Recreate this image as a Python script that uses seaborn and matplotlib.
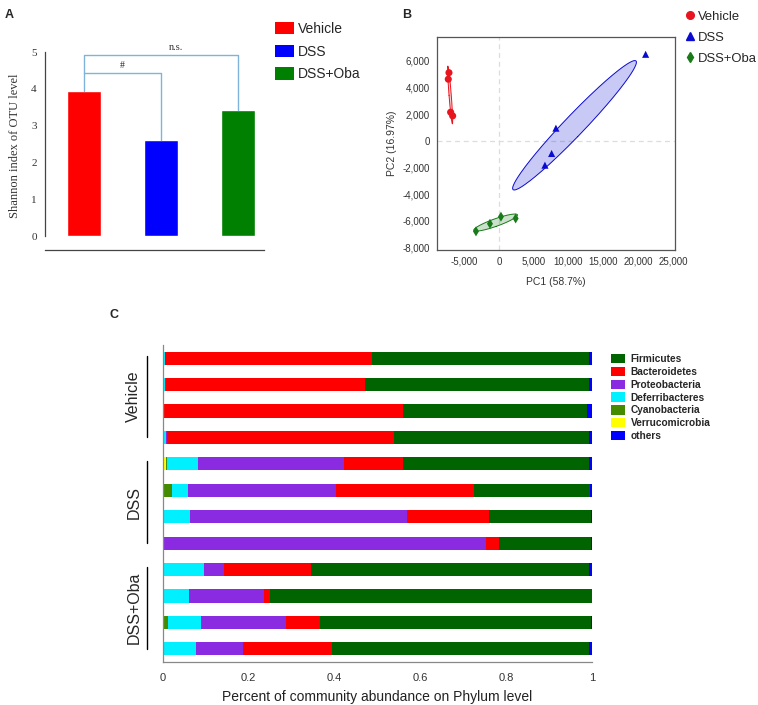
import matplotlib
matplotlib.use("Agg")
import matplotlib.pyplot as plt
import matplotlib.transforms as mtransforms
from matplotlib.patches import Patch
from matplotlib.lines import Line2D
import numpy as np
import pandas as pd
import seaborn as sns

sns.set_style("white")
plt.rcParams["font.family"] = ["Liberation Sans", "DejaVu Sans"]
plt.rcParams["axes.unicode_minus"] = False

# ---- data ----
groups = ["Vehicle", "DSS", "DSS+Oba"]
group_colors = ["#ff0000", "#0000ff", "#008000"]
shannon = [3.93, 2.61, 3.42]

pc1_vehicle = [-7180, -7280, -6940, -6650]
pc2_vehicle = [5120, 4630, 2150, 1875]
pc1_dss = [21080, 8190, 7570, 6610]
pc2_dss = [6500, 950, -950, -1830]
pc1_oba = [-3300, -1290, 290, 2400]
pc2_oba = [-6800, -6230, -5700, -5830]

samples = ["V1", "V2", "V3", "V4", "D1", "D2", "D3", "D4", "O1", "O2", "O3", "O4"]
verrucomicrobia = [0, 0, 0, 0, 0.008, 0, 0.002, 0, 0, 0, 0, 0.002]
cyanobacteria = [0, 0, 0, 0, 0.002, 0.020, 0, 0, 0, 0, 0.012, 0]
deferribacteres = [0.004, 0.005, 0, 0.006, 0.071, 0.038, 0.060, 0, 0.095, 0.060, 0.076, 0.074]
proteobacteria = [0.001, 0.003, 0.002, 0.004, 0.341, 0.345, 0.506, 0.753, 0.047, 0.176, 0.198, 0.110]
bacteroidetes = [0.482, 0.463, 0.558, 0.528, 0.137, 0.322, 0.191, 0.031, 0.204, 0.013, 0.079, 0.208]
firmicutes = [0.506, 0.522, 0.429, 0.456, 0.435, 0.270, 0.238, 0.213, 0.647, 0.750, 0.632, 0.600]
others = [0.007, 0.007, 0.011, 0.006, 0.006, 0.005, 0.003, 0.003, 0.007, 0.001, 0.003, 0.006]

fig = plt.figure(figsize=(7.58, 7.05), dpi=100)

# ================= A: Shannon bar =================
axA = fig.add_axes([0.0594, 0.6454, 0.2889, 0.2965])
dfA = pd.DataFrame({"group": groups, "shannon": shannon})
sns.barplot(data=dfA, x="group", y="shannon", hue="group", palette=group_colors,
            width=0.44, legend=False, ax=axA, saturation=1)
axA.set_xlim(-0.506, 2.34)
axA.set_ylim(-0.38, 5.3)
axA.set_xticks([-0.506, 0, 1, 2, 2.34])
axA.set_xticklabels([])
axA.set_xlabel("")
axA.set_yticks([0, 1, 2, 3, 4, 5])
axA.set_yticklabels([str(v) for v in range(6)], family="Liberation Serif", fontsize=8, color="#333333")
axA.set_ylabel("Shannon index of OTU level", family="Liberation Serif", fontsize=9, color="#333333", labelpad=7)
for s in ["top", "right"]:
    axA.spines[s].set_visible(False)
axA.spines["left"].set_bounds(0, 5)
for s in ["left", "bottom"]:
    axA.spines[s].set_color("#444444")
    axA.spines[s].set_linewidth(0.9)
axA.tick_params(axis="both", direction="out", length=4, width=0.9, color="#444444", pad=2)

# significance brackets
br = "#7fb3d9"
h1, h2 = 4.43, 4.93
axA.plot([0, 0, 1, 1], [shannon[0], h1, h1, shannon[1]], color=br, lw=1)
axA.plot([0, 0, 2, 2], [h1, h2, h2, shannon[2]], color=br, lw=1)
axA.text(0.5, h1 + 0.08, "#", ha="center", va="bottom", fontsize=7, family="Liberation Serif")
axA.text(1.2, h2 + 0.08, "n.s.", ha="center", va="bottom", fontsize=7.5, family="Liberation Serif",
         color="#333333")

fig.legend(handles=[Patch(facecolor=c, edgecolor="none", label=g) for g, c in zip(groups, group_colors)],
           loc="upper left", bbox_to_anchor=(268 / 758, 1 - 15 / 705), frameon=False, fontsize=10,
           handlelength=1.4, handleheight=1.0, handletextpad=0.25, labelspacing=0.62, borderpad=0)

fig.text(5 / 758, 1 - 18 / 705, "A", fontsize=9, fontweight="bold")
fig.text(402 / 758, 1 - 18 / 705, "B", fontsize=9, fontweight="bold")
fig.text(110 / 758, 1 - 318 / 705, "C", fontsize=9, fontweight="bold")

# ================= B: PCA =================
axB = fig.add_axes([437 / 758, 0.6454, 238 / 758, 213 / 705])
dfB = pd.DataFrame({
    "PC1": pc1_vehicle + pc1_dss + pc1_oba,
    "PC2": pc2_vehicle + pc2_dss + pc2_oba,
    "group": ["Vehicle"] * 4 + ["DSS"] * 4 + ["DSS+Oba"] * 4,
})
pca_colors = {"Vehicle": "#e8141e", "DSS": "#0a0ad2", "DSS+Oba": "#187a18"}
markers = {"Vehicle": "o", "DSS": "^", "DSS+Oba": "d"}
axB.axvline(0, color="#dddddd", lw=0.9, ls=(0, (4, 3)), zorder=0)
axB.axhline(0, color="#dddddd", lw=0.9, ls=(0, (4, 3)), zorder=0)

for g in groups:
    sub = dfB[dfB["group"] == g]
    xy = sub[["PC1", "PC2"]].to_numpy(dtype=float)
    mean = xy.mean(axis=0)
    cov = np.cov(xy.T)
    vals, vecs = np.linalg.eigh(cov)
    t = np.linspace(0, 2 * np.pi, 200)
    circ = np.vstack([np.cos(t), np.sin(t)])
    pts = (vecs @ (np.sqrt(vals)[:, None] * 1.3 * circ)).T + mean
    axB.fill(pts[:, 0], pts[:, 1], color=pca_colors[g], alpha=0.22, lw=0, zorder=1)
    axB.plot(pts[:, 0], pts[:, 1], color=pca_colors[g], lw=0.7, zorder=2)

sns.scatterplot(data=dfB, x="PC1", y="PC2", hue="group", style="group", palette=pca_colors,
                markers=markers, s=26, edgecolor="none", legend=False, ax=axB, zorder=3)
axB.set_xlim(-8900, 25300)
axB.set_ylim(-8200, 7800)
axB.set_xticks(range(-5000, 25001, 5000))
axB.set_yticks(range(-8000, 6001, 2000))
axB.xaxis.set_major_formatter(matplotlib.ticker.StrMethodFormatter("{x:,.0f}"))
axB.yaxis.set_major_formatter(matplotlib.ticker.StrMethodFormatter("{x:,.0f}"))
axB.tick_params(axis="both", labelsize=7, direction="out", length=3, width=0.8, color="#555555",
                labelcolor="#333333", pad=2)
axB.set_xlabel("PC1 (58.7%)", fontsize=7.5, color="#333333", labelpad=7)
axB.set_ylabel("PC2 (16.97%)", fontsize=7.5, color="#333333", labelpad=4)
for s in axB.spines.values():
    s.set_color("#555555")
    s.set_linewidth(0.9)

fig.legend(handles=[Line2D([], [], ls="none", marker=markers[g], color=pca_colors[g], markersize=5.5, label=g)
                    for g in groups],
           loc="upper left", bbox_to_anchor=(680 / 758, 1 - 4 / 705), frameon=False, fontsize=9.4,
           handlelength=0.5, handletextpad=0.35, labelspacing=0.68, borderpad=0)

# ================= C: stacked phylum bars =================
axC = fig.add_axes([163 / 758, 43 / 705, 429 / 758, 317 / 705])
phyla = ["Verrucomicrobia", "Cyanobacteria", "Deferribacteres", "Proteobacteria",
         "Bacteroidetes", "Firmicutes", "others"]
phyla_colors = {"Verrucomicrobia": "#ffff00", "Cyanobacteria": "#458b00", "Deferribacteres": "#00f0ff",
                "Proteobacteria": "#8a2be2", "Bacteroidetes": "#ff0000", "Firmicutes": "#006400",
                "others": "#0000ff"}
dfC = pd.DataFrame({"sample": samples, "Verrucomicrobia": verrucomicrobia, "Cyanobacteria": cyanobacteria,
                    "Deferribacteres": deferribacteres, "Proteobacteria": proteobacteria,
                    "Bacteroidetes": bacteroidetes, "Firmicutes": firmicutes, "others": others})
cum = dfC[phyla].cumsum(axis=1)
# draw the longest cumulative bar first so that each shorter one sits on top
for p in reversed(phyla):
    sns.barplot(x=cum[p], y=dfC["sample"], orient="h", color=phyla_colors[p], saturation=1,
                width=0.5, edgecolor="none", ax=axC)
axC.set_xlim(0, 1)
axC.set_ylim(11.5, -0.5)
axC.set_yticks(np.arange(-0.5, 12, 1))
axC.set_yticklabels([])
axC.set_ylabel("")
axC.set_xticks([0, 0.2, 0.4, 0.6, 0.8, 1])
axC.set_xticklabels(["0", "0.2", "0.4", "0.6", "0.8", "1"])
axC.set_xlabel("Percent of community abundance on Phylum level", fontsize=10, color="#222222", labelpad=5)
axC.tick_params(axis="both", labelsize=8, direction="out", length=5, width=0.9, color="#888888",
                labelcolor="#333333", pad=3)
for s in ["top", "right"]:
    axC.spines[s].set_visible(False)
for s in ["left", "bottom"]:
    axC.spines[s].set_color("#888888")
    axC.spines[s].set_linewidth(0.9)

trans = mtransforms.blended_transform_factory(axC.transAxes, axC.transData)
for k, g in enumerate(groups):
    y0, y1 = 4 * k - 0.1, 4 * k + 3.0
    axC.plot([-0.037, -0.037], [y0, y1], color="black", lw=1, transform=trans, clip_on=False)
    axC.text(-0.068, (y0 + y1) / 2, g, rotation=90, ha="center", va="center", fontsize=11.5,
             transform=trans, clip_on=False)

legend_order = ["Firmicutes", "Bacteroidetes", "Proteobacteria", "Deferribacteres", "Cyanobacteria",
                "Verrucomicrobia", "others"]
fig.legend(handles=[Patch(facecolor=phyla_colors[p], edgecolor="none", label=p) for p in legend_order],
           loc="upper left", bbox_to_anchor=(606 / 758, 1 - 349 / 705), frameon=False,
           prop={"size": 7.3, "weight": "bold"}, handlelength=1.35, handleheight=1.05,
           handletextpad=0.6, labelspacing=0.26, borderpad=0)

fig.savefig("out.png", dpi=100)
